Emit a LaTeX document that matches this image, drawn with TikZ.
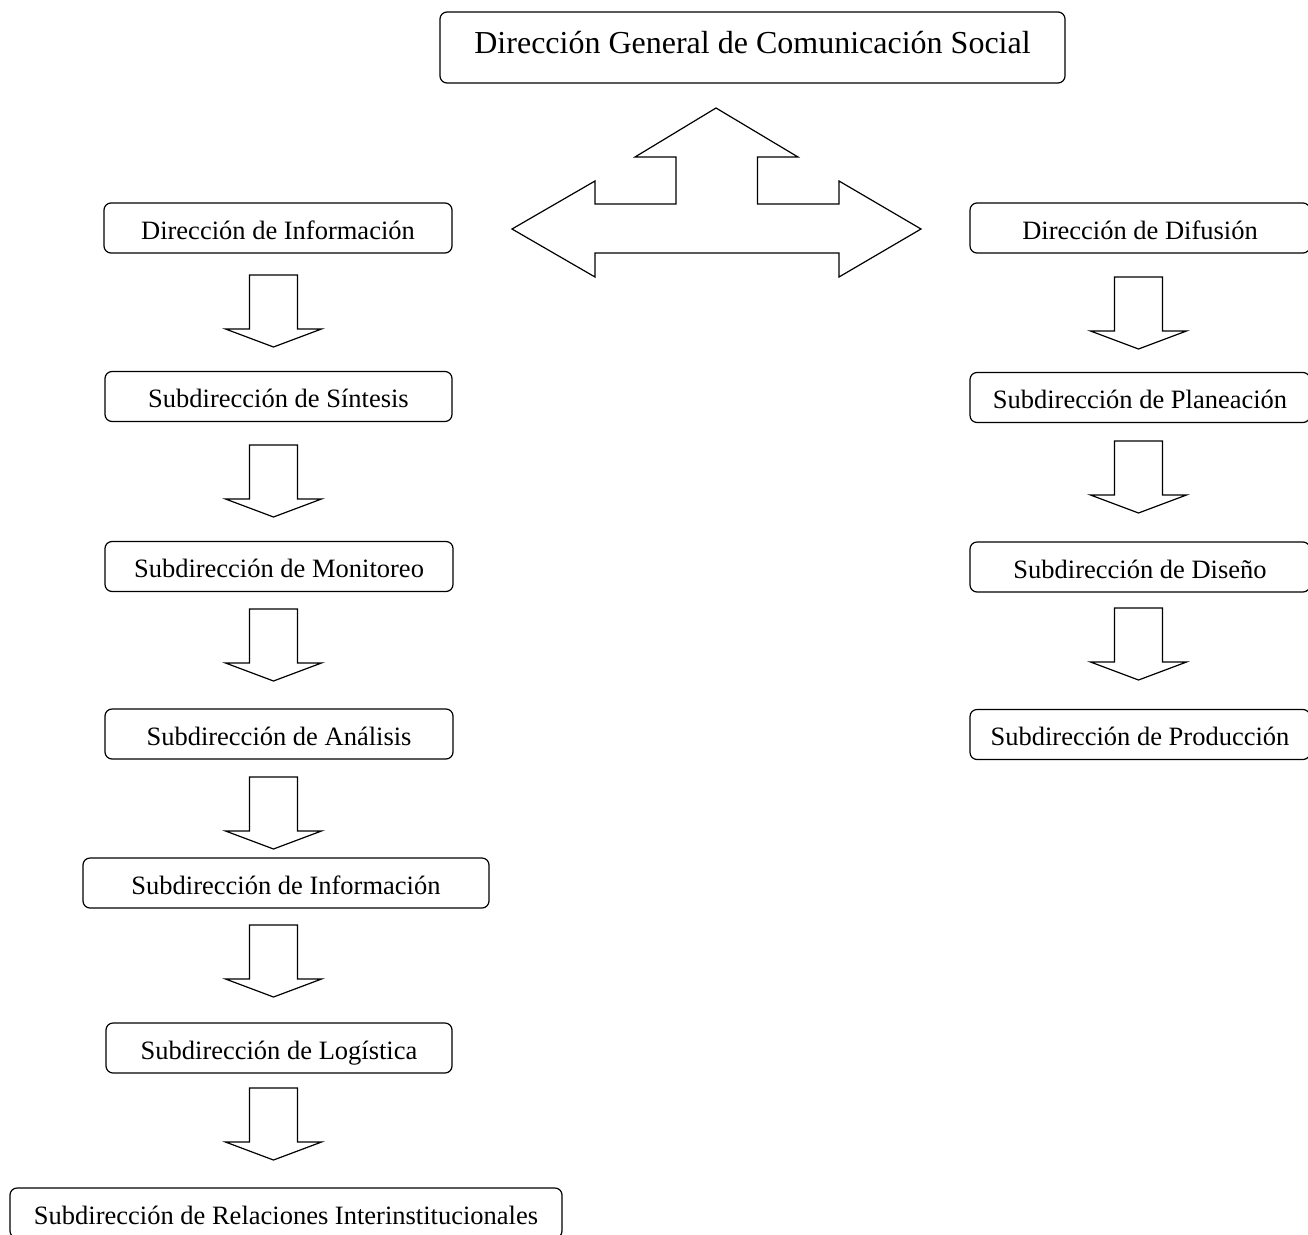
\documentclass[tikz,border=0pt]{standalone}
\usepackage{fontspec}
\setmainfont{Liberation Serif}
\begin{document}
\begin{tikzpicture}[x=1pt,y=-1pt,
  box/.style={draw,line width=1.2pt,rounded corners=7pt,inner sep=0pt,
    minimum height=50pt,text height=22pt,text depth=0pt,
    font=\fontsize{26.5}{30}\selectfont},
  arrowline/.style={draw,line width=1.2pt,line join=miter},
  dnarrow/.pic={\draw[arrowline] (-24,0) -- (24,0) -- (24,54) -- (48,54) -- (0,72) -- (-48,54) -- (-24,54) -- cycle;}
]
\useasboundingbox (0,0) rectangle (1308,1234);
\fill[white] (0,0) rectangle (1308,1234);
\clip (0,0) rectangle (1308,1234);

% top box
\node[box,minimum width=625pt,minimum height=71pt,text height=11pt,
  font=\fontsize{32}{36}\selectfont] (dg) at (752.5,47.5) {Dirección General de Comunicación Social};

% three-way block arrow
\draw[arrowline] (716,108) -- (798,157) -- (757.5,157) -- (757.5,204) -- (839,204)
  -- (839,181) -- (921,229) -- (839,277) -- (839,253) -- (595,253) -- (595,277)
  -- (512,229) -- (595,181) -- (595,204) -- (676,204) -- (676,157) -- (635,157) -- cycle;

% left column
\node[box,minimum width=348pt] (l1) at (278,228) {Dirección de Información};
\node[box,minimum width=347pt] (l2) at (278.5,396.5) {Subdirección de Síntesis};
\node[box,minimum width=348pt] (l3) at (279,566.5) {Subdirección de Monitoreo};
\node[box,minimum width=348pt] (l4) at (279,734) {Subdirección de Análisis};
\node[box,minimum width=406pt] (l5) at (286,883) {Subdirección de Información};
\node[box,minimum width=346pt] (l6) at (279,1048) {Subdirección de Logística};
\node[box,minimum width=552pt] (l7) at (286,1213) {Subdirección de Relaciones Interinstitucionales};

\pic at (273.5,275) {dnarrow};
\pic at (273.5,445) {dnarrow};
\pic at (273.5,609) {dnarrow};
\pic at (273.5,777) {dnarrow};
\pic at (273.5,925) {dnarrow};
\pic at (273.5,1088) {dnarrow};

% right column
\node[box,minimum width=340pt] (r1) at (1140,228) {Dirección de Difusión\hspace{26pt}};
\node[box,minimum width=340pt] (r2) at (1140,397.5) {Subdirección de Planeación};
\node[box,minimum width=340pt] (r3) at (1140,567) {Subdirección de Diseño};
\node[box,minimum width=340pt] (r4) at (1140,734.5) {Subdirección de Producción};

\pic at (1138.5,277) {dnarrow};
\pic at (1138.5,441) {dnarrow};
\pic at (1138.5,608) {dnarrow};
\end{tikzpicture}
\end{document}
